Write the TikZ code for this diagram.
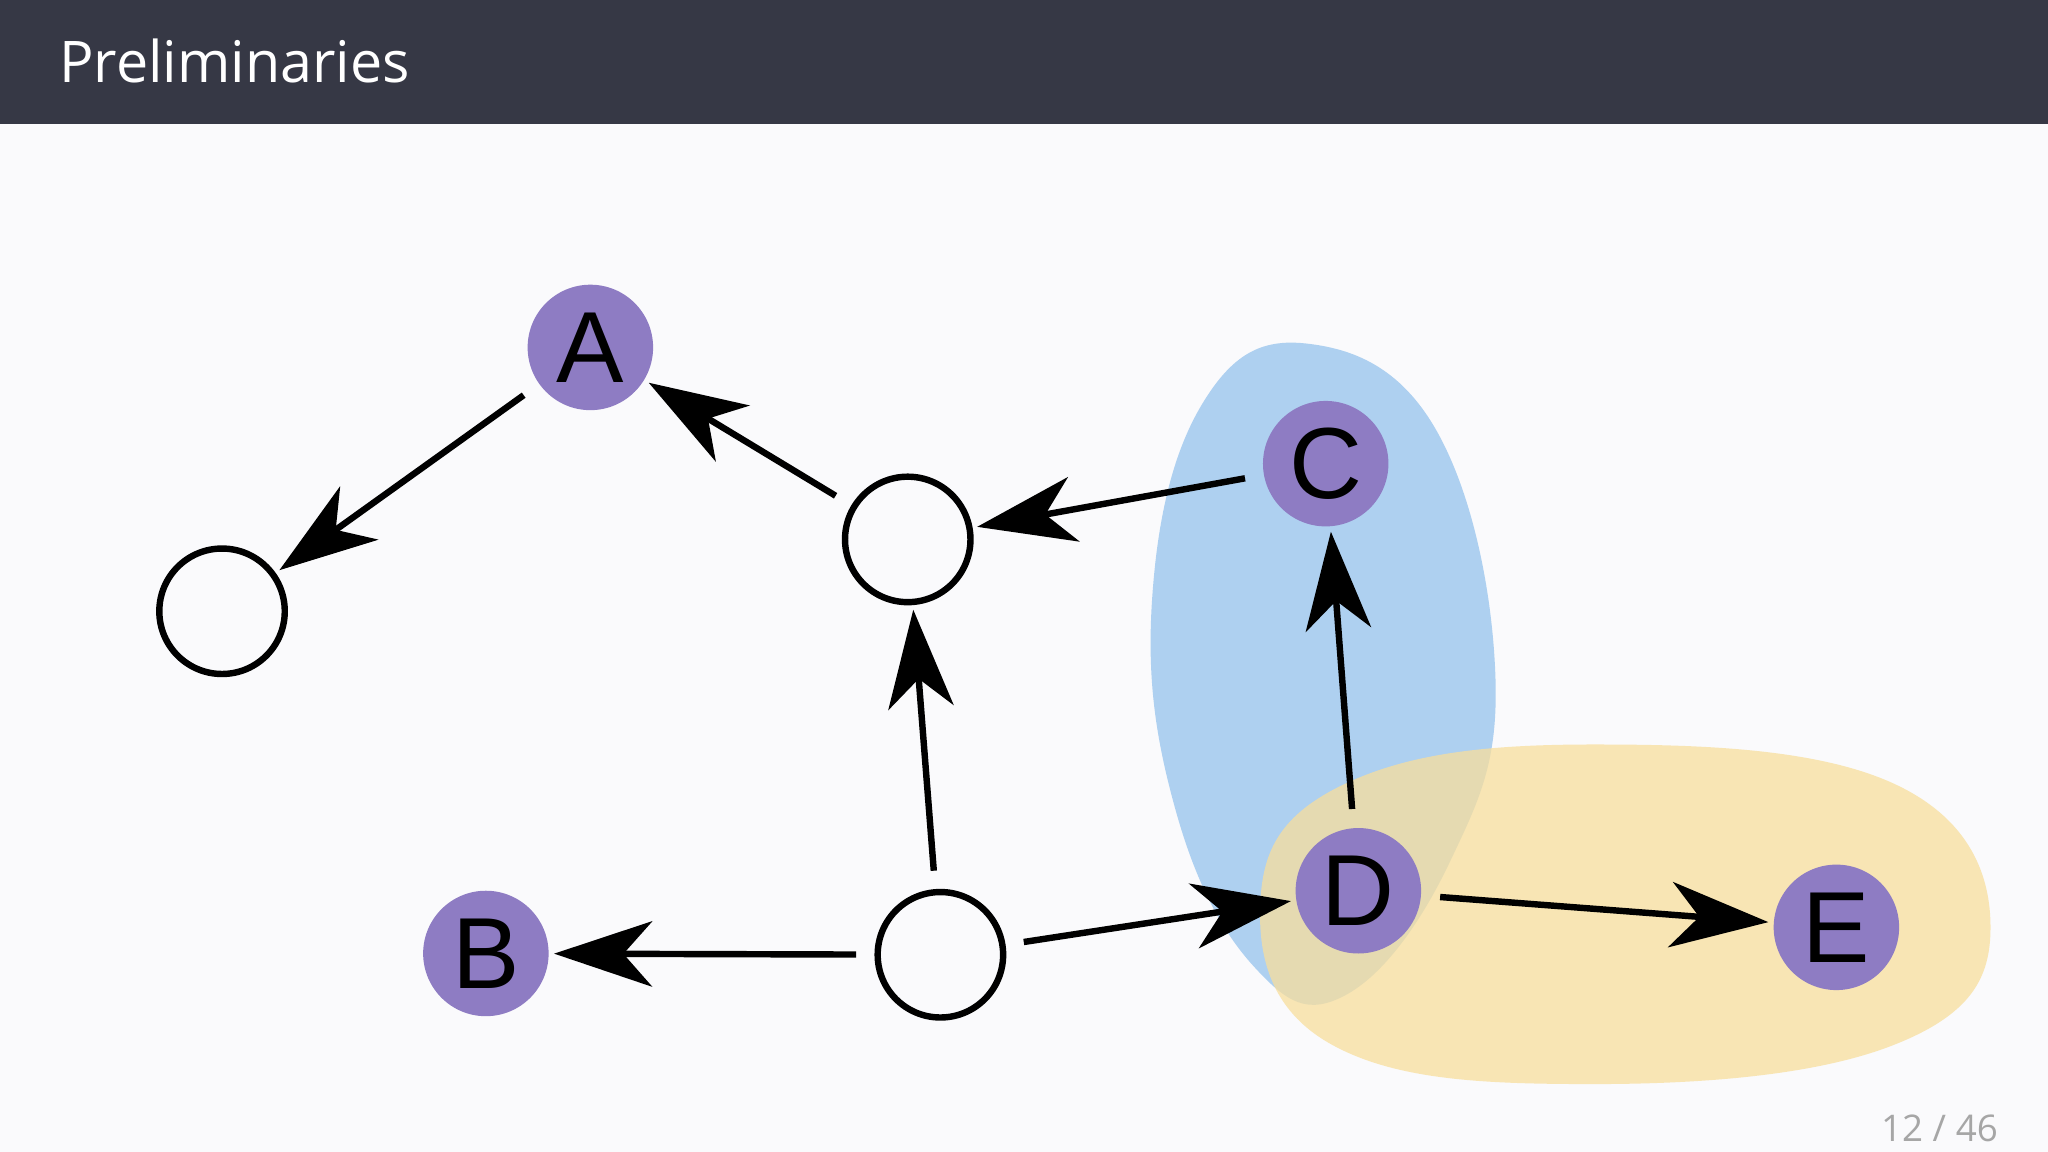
\documentclass[tikz,border=0pt]{standalone}
\usepackage{fontspec}
\setmainfont{Liberation Sans}
\newfontfamily\titlefont{Open Sans}
\usetikzlibrary{arrows.meta}
\definecolor{bar}{HTML}{363845}
\definecolor{bg}{HTML}{FAFAFC}
\definecolor{purp}{HTML}{8E7CC3}
\definecolor{blueb}{HTML}{AED0F0}
\definecolor{yel}{HTML}{F8DE9C}
\begin{document}
\begin{tikzpicture}[x=0.01cm,y=-0.01cm,
  lab/.style={circle,fill=purp,minimum size=0.96cm,inner sep=0pt,font=\fontsize{22}{22}\selectfont},
  emp/.style={circle,draw=black,line width=1.4pt,minimum size=0.96cm,inner sep=0pt},
  edge/.style={line width=1.4pt,-{Stealth[length=0.75cm,width=0.5cm,inset=0.22cm]},shorten <=4pt,shorten >=1pt}]
\fill[bg] (0,0) rectangle (1568,882);
\useasboundingbox (0,0) rectangle (1568,882);
\fill[bar] (0,0) rectangle (1568,95);
\node[anchor=west,text=white,font=\titlefont\fontsize{12.5}{14}\selectfont] (title) at (33,47) {Preliminaries};
\node[anchor=east,text=gray!70,font=\titlefont\fontsize{8}{9}\selectfont] (pg) at (1542,864) {12 / 46};
\fill[blueb] plot[smooth cycle,tension=0.7] coordinates {(1000,263) (1100,330) (1145,520) (1110,660) (1030,762) (960,740) (900,620) (882,460) (920,310)};
\fill[yel,opacity=0.75] plot[smooth cycle,tension=0.7] coordinates {(1220,570) (1450,600) (1524,710) (1450,800) (1220,830) (1020,800) (965,690) (1030,600)};
\node[lab] (A) at (452,266) {A};
\node[lab] (B) at (372,730) {B};
\node[lab] (C) at (1015,355) {C};
\node[lab] (D) at (1040,682) {D};
\node[lab] (E) at (1406,710) {E};
\node[emp] (L) at (170,468) {};
\node[emp] (M) at (695,413) {};
\node[emp] (N) at (720,731) {};
\draw[edge] (A) -- (L);
\draw[edge] (M) -- (A);
\draw[edge] (C) -- (M);
\draw[edge] (D) -- (C);
\draw[edge] (N) -- (M);
\draw[edge] (N) -- (B);
\draw[edge] (N) -- (D);
\draw[edge] (D) -- (E);
\end{tikzpicture}
\end{document}
